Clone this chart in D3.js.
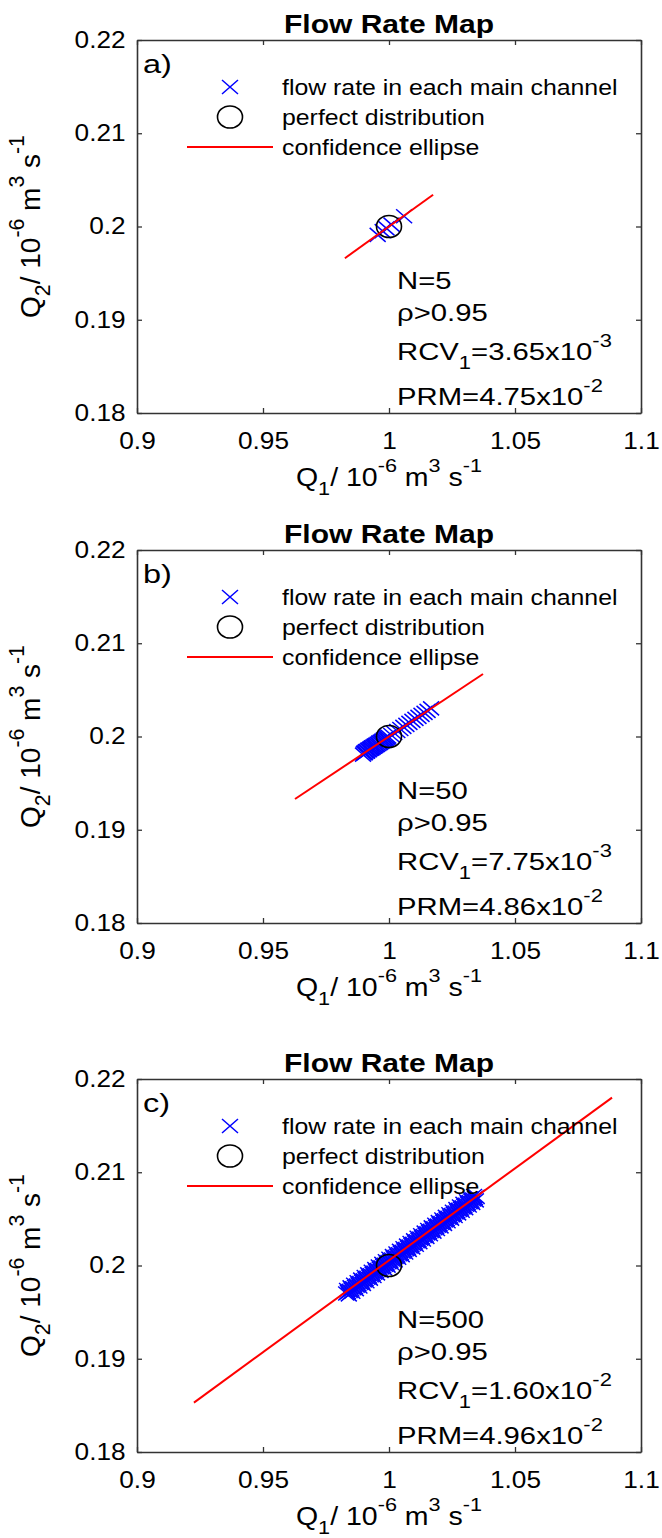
<!DOCTYPE html>
<html>
<head>
<meta charset="utf-8">
<script src="https://d3js.org/d3.v7.min.js"></script>
<title>Flow Rate Map</title>
<style>
  body { margin: 0; background: #fff; }
  text { font-family: "Liberation Sans", Arial, sans-serif; fill: #000; }
</style>
</head>
<body>
<div id="chart"></div>
<script>
// axis ticks
var xTicks = [0.9, 0.95, 1, 1.05, 1.1];
var xTickLabels = ["0.9", "0.95", "1", "1.05", "1.1"];
var yTicks = [0.18, 0.19, 0.2, 0.21, 0.22];
var yTickLabels = ["0.18", "0.19", "0.2", "0.21", "0.22"];

// panel texts
var panelLabels = ["a)", "b)", "c)"];
var nLabels = ["N=5", "N=50", "N=500"];
var rcvMant = ["3.65", "7.75", "1.60"];
var rcvExp = ["-3", "-3", "-2"];
var prmMant = ["4.75", "4.86", "4.96"];
var prmExp = ["-2", "-2", "-2"];
var legendLabels = ["flow rate in each main channel", "perfect distribution", "confidence ellipse"];

// perfect distribution point
var perfectQ1 = 1.0, perfectQ2 = 0.2;

// flow rate in each main channel, panel a (N=5)
var flowAq1 = [0.9955, 0.9975, 0.9990, 1.0010, 1.0060];
var flowAq2 = [0.1991, 0.1995, 0.1998, 0.2002, 0.2011];

// panel b (N=50)
var flowBq1 = [0.9897, 0.9900, 0.9903, 0.9905, 0.9908, 0.9911, 0.9913, 0.9916, 0.9919, 0.9921,
  0.9924, 0.9927, 0.9930, 0.9932, 0.9935, 0.9938, 0.9941, 0.9943, 0.9946, 0.9949,
  0.9952, 0.9955, 0.9958, 0.9961, 0.9964, 0.9967, 0.9970, 0.9973, 0.9976, 0.9979,
  0.9982, 0.9985, 0.9988, 0.9991, 0.9994, 0.9997, 1.0009, 1.0021, 1.0033, 1.0045,
  1.0057, 1.0069, 1.0081, 1.0093, 1.0105, 1.0117, 1.0129, 1.0141, 1.0153, 1.0167];
var flowBq2 = [0.19805, 0.19820, 0.19830, 0.19822, 0.19840, 0.19845, 0.19838, 0.19852, 0.19860, 0.19852,
  0.19866, 0.19872, 0.19870, 0.19884, 0.19880, 0.19892, 0.19890, 0.19902, 0.19900, 0.19912,
  0.19910, 0.19922, 0.19920, 0.19934, 0.19932, 0.19944, 0.19942, 0.19955, 0.19953, 0.19966,
  0.19964, 0.19977, 0.19975, 0.19988, 0.19986, 0.19998, 0.20016, 0.20038, 0.20059, 0.20081,
  0.20103, 0.20124, 0.20146, 0.20167, 0.20189, 0.20211, 0.20232, 0.20254, 0.20275, 0.20301];

// panel c (N=500, so dense that the markers merge into a band)
var flowCq1 = [0.9830, 0.9837, 0.9844, 0.9851, 0.9858, 0.9865, 0.9872, 0.9879, 0.9886, 0.9893,
  0.9900, 0.9907, 0.9914, 0.9921, 0.9928, 0.9935, 0.9942, 0.9949, 0.9956, 0.9963,
  0.9970, 0.9977, 0.9984, 0.9991, 0.9998, 1.0005, 1.0012, 1.0019, 1.0026, 1.0033,
  1.0040, 1.0047, 1.0054, 1.0061, 1.0068, 1.0075, 1.0082, 1.0089, 1.0096, 1.0103,
  1.0110, 1.0117, 1.0124, 1.0131, 1.0138, 1.0145, 1.0152, 1.0159, 1.0166, 1.0173,
  1.0180, 1.0187, 1.0194, 1.0201, 1.0208, 1.0215, 1.0222, 1.0229, 1.0236, 1.0243,
  1.0250, 1.0257, 1.0264, 1.0271, 1.0278, 1.0285, 1.0292, 1.0299, 1.0306, 1.0313,
  1.0320, 1.0327, 1.0334, 1.0341, 1.0348,
  0.98335, 0.98405, 0.98475, 0.98545, 0.98615, 0.98685, 0.98755, 0.98825, 0.98895, 0.98965,
  0.99035, 0.99105, 0.99175, 0.99245, 0.99315, 0.99385, 0.99455, 0.99525, 0.99595, 0.99665,
  0.99735, 0.99805, 0.99875, 0.99945, 1.00015, 1.00085, 1.00155, 1.00225, 1.00295, 1.00365,
  1.00435, 1.00505, 1.00575, 1.00645, 1.00715, 1.00785, 1.00855, 1.00925, 1.00995, 1.01065,
  1.01135, 1.01205, 1.01275, 1.01345, 1.01415, 1.01485, 1.01555, 1.01625, 1.01695, 1.01765,
  1.01835, 1.01905, 1.01975, 1.02045, 1.02115, 1.02185, 1.02255, 1.02325, 1.02395, 1.02465,
  1.02535, 1.02605, 1.02675, 1.02745, 1.02815, 1.02885, 1.02955, 1.03025, 1.03095, 1.03165,
  1.03235, 1.03305, 1.03375, 1.03445];
var flowCq2 = [0.19700, 0.19714, 0.19728, 0.19742, 0.19756, 0.19770, 0.19784, 0.19798, 0.19812, 0.19826,
  0.19840, 0.19854, 0.19868, 0.19882, 0.19896, 0.19910, 0.19924, 0.19938, 0.19952, 0.19966,
  0.19980, 0.19994, 0.20008, 0.20022, 0.20036, 0.20050, 0.20064, 0.20078, 0.20092, 0.20106,
  0.20120, 0.20134, 0.20148, 0.20162, 0.20176, 0.20190, 0.20204, 0.20218, 0.20232, 0.20246,
  0.20260, 0.20274, 0.20288, 0.20302, 0.20316, 0.20330, 0.20344, 0.20358, 0.20372, 0.20386,
  0.20400, 0.20414, 0.20428, 0.20442, 0.20456, 0.20470, 0.20484, 0.20498, 0.20512, 0.20526,
  0.20540, 0.20554, 0.20568, 0.20582, 0.20596, 0.20610, 0.20624, 0.20638, 0.20652, 0.20666,
  0.20680, 0.20694, 0.20708, 0.20722, 0.20736,
  0.19737, 0.19691, 0.19765, 0.19719, 0.19793, 0.19747, 0.19821, 0.19775, 0.19849, 0.19803,
  0.19877, 0.19831, 0.19905, 0.19859, 0.19933, 0.19887, 0.19961, 0.19915, 0.19989, 0.19943,
  0.20017, 0.19971, 0.20045, 0.19999, 0.20073, 0.20027, 0.20101, 0.20055, 0.20129, 0.20083,
  0.20157, 0.20111, 0.20185, 0.20139, 0.20213, 0.20167, 0.20241, 0.20195, 0.20269, 0.20223,
  0.20297, 0.20251, 0.20325, 0.20279, 0.20353, 0.20307, 0.20381, 0.20335, 0.20409, 0.20363,
  0.20437, 0.20391, 0.20465, 0.20419, 0.20493, 0.20447, 0.20521, 0.20475, 0.20549, 0.20503,
  0.20577, 0.20531, 0.20605, 0.20559, 0.20633, 0.20587, 0.20661, 0.20615, 0.20689, 0.20643,
  0.20717, 0.20671, 0.20745, 0.20699];

// confidence ellipse (very flat, shows as a line): end points
var ellipseAq1 = [0.9825, 1.0175], ellipseAq2 = [0.1966, 0.2034];
var ellipseBq1 = [0.9627, 1.0373], ellipseBq2 = [0.1933, 0.2067];
var ellipseCq1 = [0.9226, 1.0885], ellipseCq2 = [0.1853, 0.2180];

var flowQ1 = [flowAq1, flowBq1, flowCq1];
var flowQ2 = [flowAq2, flowBq2, flowCq2];
var ellQ1 = [ellipseAq1, ellipseBq1, ellipseCq1];
var ellQ2 = [ellipseAq2, ellipseBq2, ellipseCq2];

// layout
var width = 662, height = 1538;
var left = 137, plotW = 504, plotH = 373;
var tops = [40, 550, 1079];
var SX = 1.14;   // source figure is stretched sideways a bit
var axisColor = "#333";
var xMark = "M-8,-7L8,7M-8,7L8,-7";

var svg = d3.select("#chart").append("svg")
  .attr("width", width).attr("height", height);
svg.append("rect").attr("width", width).attr("height", height).attr("fill", "#fff");

var x = d3.scaleLinear().domain([0.9, 1.1]).range([0, plotW]);
var y = d3.scaleLinear().domain([0.18, 0.22]).range([plotH, 0]);

// text with sub/superscript parts, squeezed/stretched sideways by sx
function addText(g, px, py, size, parts, o) {
  o = o || {};
  var sx = o.sx || SX;
  var t = g.append("text")
    .attr("transform", "translate(" + px + "," + py + ") scale(" + sx + ",1)")
    .attr("font-size", size + "px")
    .attr("text-anchor", o.anchor || "start");
  if (o.weight) t.attr("font-weight", o.weight);
  if (o.fill) t.attr("fill", o.fill);
  var shift = 0;
  parts.forEach(function(p) {
    var s = t.append("tspan").text(p[0]);
    var target = 0, fs = size;
    if (p[1] === "sup") { target = -Math.round(size * 0.55); fs = Math.round(size * 0.75); }
    if (p[1] === "sub") { target = Math.round(size * 0.36); fs = Math.round(size * 0.75); }
    s.attr("font-size", fs + "px").attr("dy", target - shift);
    shift = target;
  });
  return t;
}

var unitParts = function(q) {
  return [["Q"], [q, "sub"], ["/ 10"], ["-6", "sup"], [" m"], ["3", "sup"], [" s"], ["-1", "sup"]];
};

tops.forEach(function(top, p) {
  var g = svg.append("g").attr("transform", "translate(" + left + "," + top + ")");

  // axes with inward ticks on all four sides
  var ax = [
    [d3.axisBottom(x), "translate(0," + plotH + ")", xTicks, xTickLabels, 20],
    [d3.axisLeft(y), null, yTicks, yTickLabels, 10],
    [d3.axisTop(x), null, xTicks, null, 10],
    [d3.axisRight(y), "translate(" + plotW + ",0)", yTicks, null, 10]
  ];
  ax.forEach(function(a) {
    var labels = a[3];
    a[0].tickValues(a[2]).tickSizeInner(-5).tickSizeOuter(0).tickPadding(a[4])
      .tickFormat(function(d, i) { return labels ? labels[i] : ""; });
    var ag = g.append("g").call(a[0]);
    if (a[1]) ag.attr("transform", a[1]);
    ag.select(".domain").attr("stroke", axisColor).attr("stroke-width", 1.6);
    ag.selectAll(".tick line").attr("stroke", axisColor).attr("stroke-width", 1.3);
    ag.selectAll(".tick text")
      .attr("font-family", "'Liberation Sans', Arial, sans-serif")
      .attr("font-size", "23px").attr("fill", "#262626")
      .attr("transform", "scale(" + SX + ",1)");
  });

  // flow rates
  g.append("g").selectAll("path")
    .data(flowQ1[p].map(function(v, i) { return [v, flowQ2[p][i]]; }))
    .enter().append("path")
    .attr("transform", function(d) { return "translate(" + x(d[0]) + "," + y(d[1]) + ")"; })
    .attr("d", xMark)
    .attr("stroke", "#0000ff").attr("stroke-width", 1.5).attr("fill", "none");

  // perfect distribution
  g.append("ellipse")
    .attr("cx", x(perfectQ1)).attr("cy", y(perfectQ2))
    .attr("rx", 12.5).attr("ry", 11)
    .attr("fill", "none").attr("stroke", "#000").attr("stroke-width", 1.6);

  // confidence ellipse
  g.append("path")
    .datum(ellQ1[p].map(function(v, i) { return [v, ellQ2[p][i]]; }))
    .attr("d", d3.line().x(function(d) { return x(d[0]); }).y(function(d) { return y(d[1]); }))
    .attr("stroke", "#ff0000").attr("stroke-width", 2).attr("fill", "none");

  // legend
  var lx = 187 - left, mx = 230 - left, ly = [47, 77, 107];
  g.append("path").attr("transform", "translate(" + mx + "," + ly[0] + ")")
    .attr("d", xMark).attr("stroke", "#0000ff").attr("stroke-width", 1.5);
  g.append("ellipse").attr("cx", mx).attr("cy", ly[1])
    .attr("rx", 12.5).attr("ry", 11)
    .attr("fill", "none").attr("stroke", "#000").attr("stroke-width", 1.6);
  g.append("line").attr("x1", lx).attr("x2", lx + 86).attr("y1", ly[2]).attr("y2", ly[2])
    .attr("stroke", "#ff0000").attr("stroke-width", 2);
  legendLabels.forEach(function(s, i) {
    addText(g, 282 - left, ly[i] + 7.5, 21.8, [[s]]);
  });

  // title and panel label
  addText(g, plotW / 2, -7, 25, [["Flow Rate Map"]], { anchor: "middle", weight: "bold", sx: 1.2 });
  addText(g, 6, 33, 25, [[panelLabels[p]]], { sx: 1.3 });

  // statistics
  var sx = 397 - left;
  var st = { sx: 1.22 };
  addText(g, sx, 249, 24, [[nLabels[p]]], st);
  addText(g, sx, 281, 24, [["ρ>0.95"]], st);
  addText(g, sx, 320, 24, [["RCV"], ["1", "sub"], ["=" + rcvMant[p] + "x10"], [rcvExp[p], "sup"]], st);
  addText(g, sx, 365, 24, [["PRM=" + prmMant[p] + "x10"], [prmExp[p], "sup"]], st);

  // axis titles
  addText(g, plotW / 2, plotH + 73, 25, unitParts("1"), { anchor: "middle", fill: "#262626" });
  var yl = addText(g, 0, 0, 25, unitParts("2"), { anchor: "middle", fill: "#262626" });
  yl.attr("transform", "translate(" + (40 - left) + "," + (plotH / 2) + ") rotate(-90) scale(1.12," + SX + ")");
});
</script>
</body>
</html>
